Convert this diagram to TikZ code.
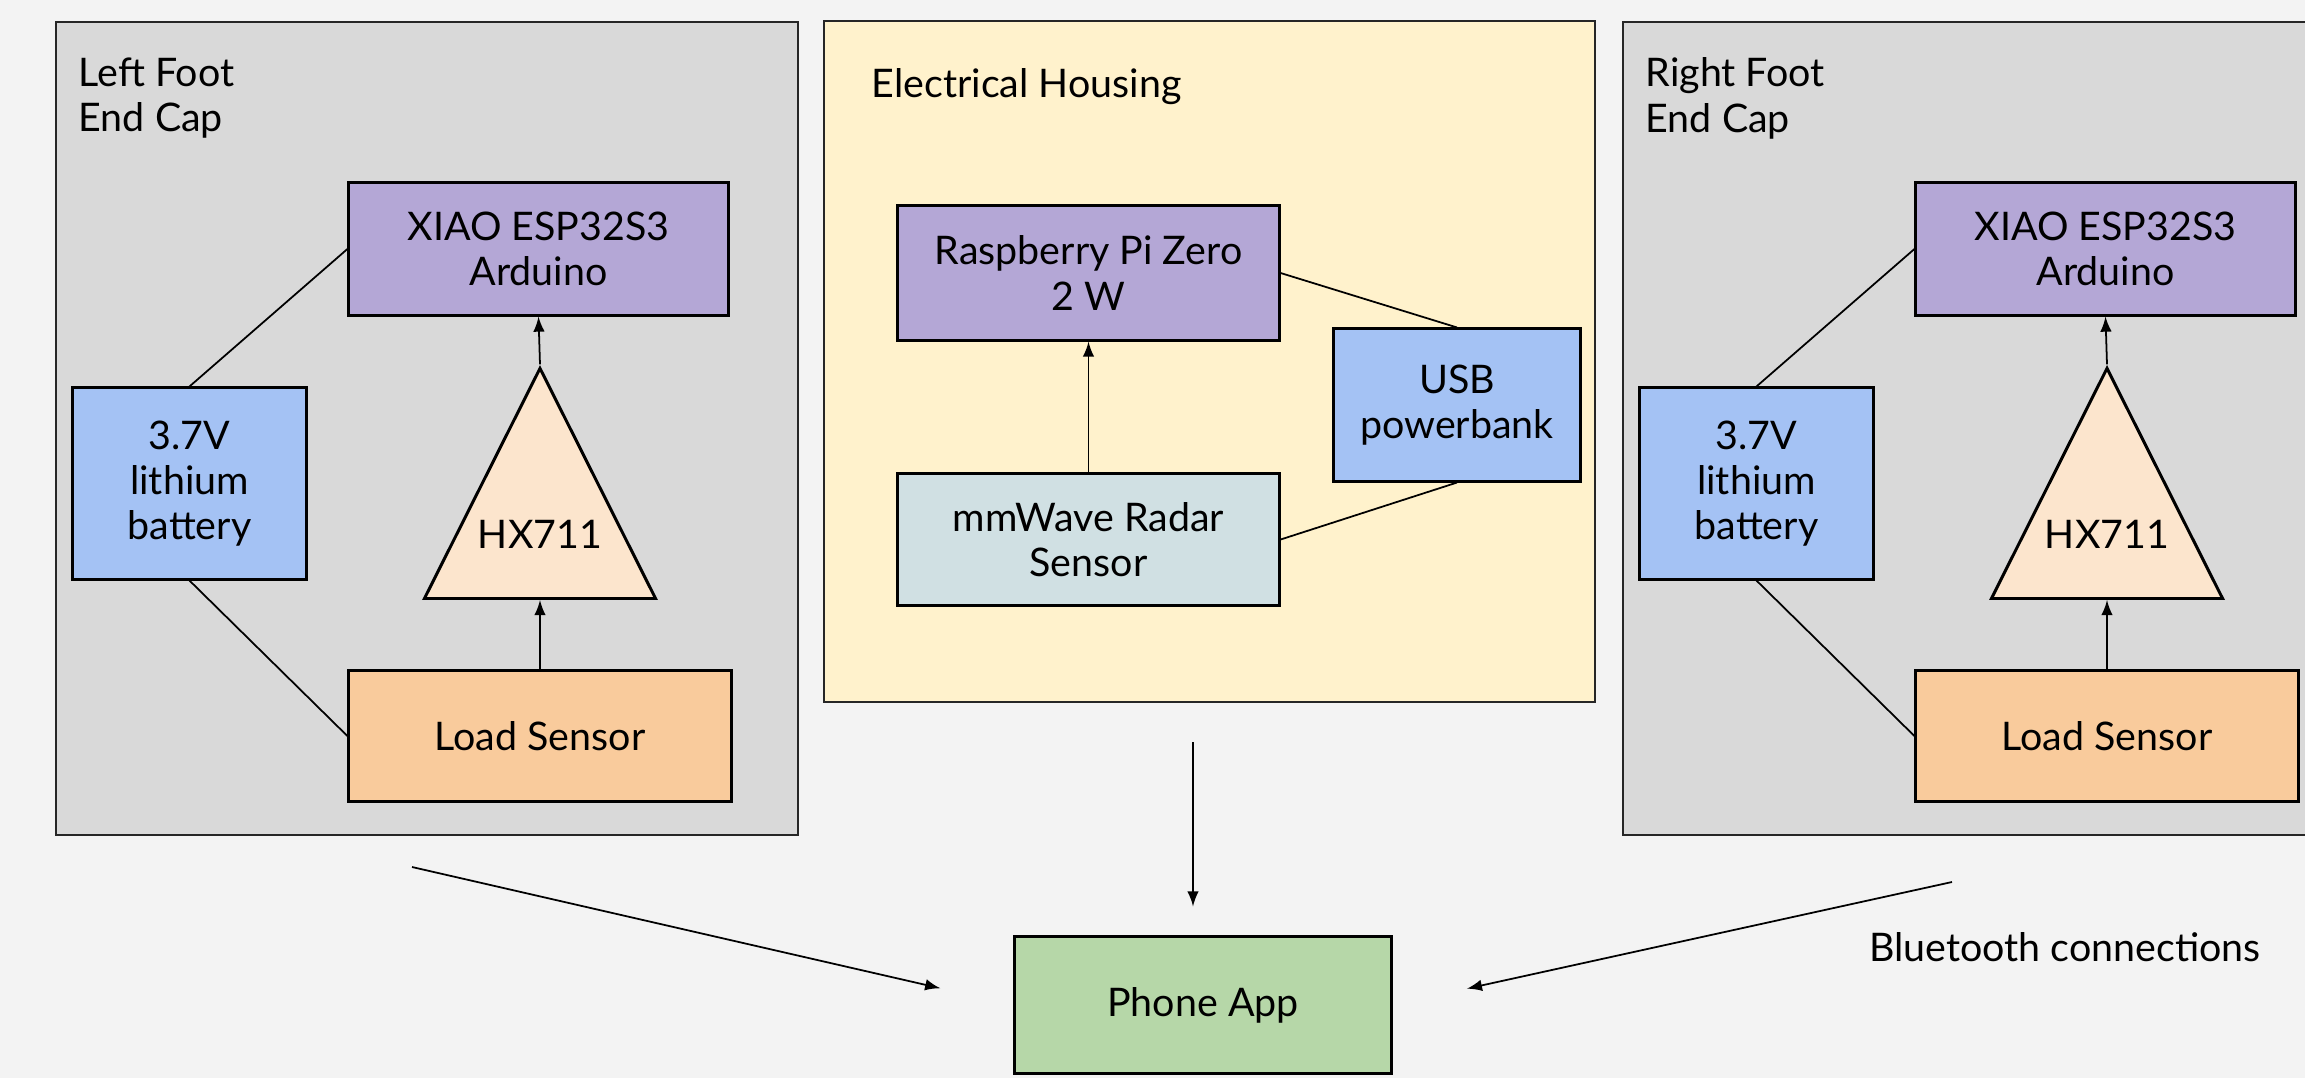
\documentclass[tikz,border=0pt]{standalone}
\usepackage{fontspec}
\setmainfont{Lato}
\usetikzlibrary{shapes.geometric}
\definecolor{pagebg}{HTML}{F3F3F3}
\definecolor{capgray}{HTML}{D9D9D9}
\definecolor{housing}{HTML}{FFF2CC}
\definecolor{mcu}{HTML}{B4A7D6}
\definecolor{power}{HTML}{A4C2F4}
\definecolor{sensor}{HTML}{F9CB9C}
\definecolor{ampfill}{HTML}{FCE5CD}
\definecolor{radarfill}{HTML}{D0E0E3}
\definecolor{appfill}{HTML}{B6D7A8}
\tikzset{
  bay/.style={draw=black!85, line width=0.4pt},
  part/.style={draw, line width=0.85pt, align=center, inner sep=0pt},
  amp/.style={draw, line width=0.85pt, fill=ampfill, isosceles triangle, isosceles triangle stretches=true, shape border rotate=90, inner sep=0pt},
  wire/.style={line width=0.5pt},
}
\begin{document}
\begin{tikzpicture}[x=0.01cm, y=-0.01cm, font=\fontsize{11.2}{12.9}\selectfont]
    \fill[pagebg] (0,0) rectangle (2305,1078);
    \useasboundingbox (0,0) rectangle (2305,1078);
    \foreach \ft/\dx/\nm in {L/0/Left, R/1567/Right} {
        \begin{scope}[xshift=\dx*0.01cm]
            \draw[bay, fill=capgray] (56,22) rectangle (798,835);
            \node[anchor=north west, align=left, inner sep=0pt] (title\ft) at (78,57) {\nm{} Foot\\End Cap};
            \node[part, fill=mcu, minimum width=3.79cm, minimum height=1.32cm] (xiao\ft) at (538.5,249) {XIAO ESP32S3\\Arduino};
            \node[part, fill=power, minimum width=2.33cm, minimum height=1.91cm] (batt\ft) at (189.5,483.5) {3.7V\\lithium\\battery};
            \node[amp, minimum width=2.31cm, minimum height=2.3cm, anchor=south] (hx\ft) at (540,600) {};
            \node (hxtext\ft) at (540,534) {HX711};
            \node[part, fill=sensor, minimum width=3.82cm, minimum height=1.3cm] (load\ft) at (540,736) {Load Sensor};
            \draw[wire] (batt\ft.north) -- (xiao\ft.west);
            \draw[wire] (batt\ft.south) -- (load\ft.west);
            \draw[wire, -latex] (load\ft.north) -- (hx\ft.south);
            \draw[wire, -latex] (hx\ft.apex) -- (xiao\ft.south);
        \end{scope}
    }
    \draw[bay, fill=housing] (824,21) rectangle (1595,702);
    \node[anchor=base west, inner sep=0pt] (titleM) at (871,97) {Electrical Housing};
    \node[part, fill=mcu, minimum width=3.81cm, minimum height=1.34cm] (rpi) at (1088.5,273) {Raspberry Pi Zero\\2 W};
    \node[part, fill=power, minimum width=2.46cm, minimum height=1.52cm] (usb) at (1457,405) {USB\\powerbank};
    \node[part, fill=radarfill, minimum width=3.81cm, minimum height=1.31cm] (radar) at (1088.5,539.5) {mmWave Radar\\Sensor};
    \draw[wire] (rpi.east) -- (usb.north);
    \draw[wire] (usb.south) -- (radar.east);
    \draw[wire, -latex] (radar.north) -- (rpi.south);
    \node[part, fill=appfill, minimum width=3.76cm, minimum height=1.36cm] (app) at (1203,1005) {Phone App};
    \node (bt) at (2065,947) {Bluetooth connections};
    \coordinate (bleL) at (412,867);
    \coordinate (bleM) at (1193,742);
    \coordinate (bleR) at (1952,882);
    \draw[wire, -latex, shorten >=0.75cm] (bleL) -- (app.west);
    \draw[wire, -latex, shorten >=0.29cm] (bleM) -- (bleM |- app.north);
    \draw[wire, -latex, shorten >=0.76cm] (bleR) -- (app.east);
\end{tikzpicture}
\end{document}
